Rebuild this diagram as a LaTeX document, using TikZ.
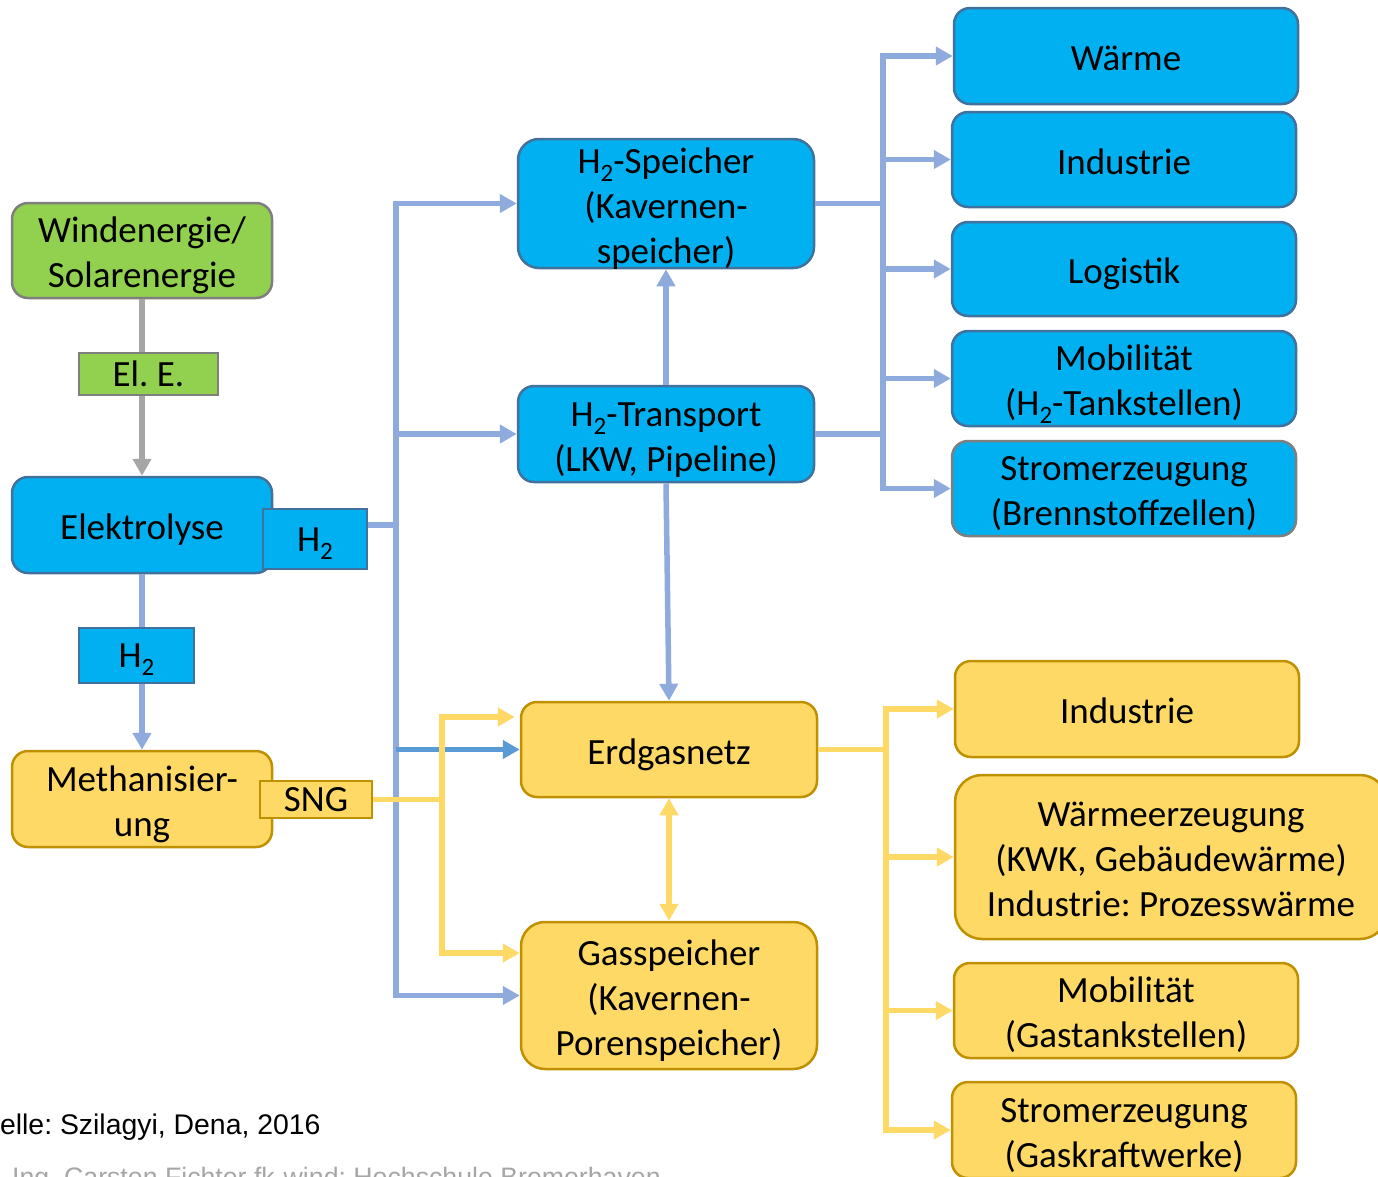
\documentclass[tikz,border=0pt]{standalone}
\usepackage{fontspec}
\setmainfont{Carlito}
\newfontfamily\arialfont{Liberation Sans}
\usetikzlibrary{arrows.meta, positioning}
\frenchspacing

\definecolor{hblau}{HTML}{00B0F0}
\definecolor{hrand}{HTML}{41719C}
\definecolor{gruen}{HTML}{92D050}
\definecolor{grau}{HTML}{7F7F7F}
\definecolor{gelb}{HTML}{FFD966}
\definecolor{gelbrand}{HTML}{BF9000}
\definecolor{pfeilblau}{HTML}{8FAADC}
\definecolor{pfeildunkel}{HTML}{5B9BD5}
\definecolor{pfeilgelb}{HTML}{FFD966}
\definecolor{pfeilgrau}{HTML}{A6A6A6}
\definecolor{fussgrau}{HTML}{A6A6A6}

% tiefgestellte Ziffer
\newcommand{\tief}[1]{\raisebox{-8pt}{\fontsize{25}{25}\selectfont#1}}

\begin{document}
\begin{tikzpicture}[
    x=1pt, y=-1pt,
    bbox/.style={
        draw=hrand,
        fill=hblau,
        line width=2.5pt,
        rounded corners=16pt,
        align=center,
        inner sep=0pt,
        minimum width=344pt,
        minimum height=95pt,
        font=\fontsize{37}{45}\selectfont,
        text height=29.5pt,
        text depth=0pt
    },
    zwei/.style={text height=74.5pt},
    drei/.style={text height=119.5pt},
    gbox/.style={bbox, draw=grau, fill=gruen},
    ybox/.style={bbox, draw=gelbrand, fill=gelb},
    btag/.style={bbox, rounded corners=0pt, text height=24pt},
    ytag/.style={ybox, rounded corners=0pt, text height=24pt},
    gtag/.style={gbox, rounded corners=0pt, text height=24pt},
    pfeil/.style={
        line width=5.5pt,
        -{Triangle[length=17pt,width=18pt]}
    },
    barrow/.style={pfeil, draw=pfeilblau},
    darrow/.style={pfeil, draw=pfeildunkel},
    yarrow/.style={pfeil, draw=pfeilgelb},
    garrow/.style={pfeil, draw=pfeilgrau},
    bline/.style={line width=5.5pt, draw=pfeilblau},
    yline/.style={line width=5.5pt, draw=pfeilgelb}
]

\useasboundingbox (0,0) rectangle (1378,1176);
\clip (0,0) rectangle (1378,1176);

% Quelle links
\node (wind) [gbox, zwei, minimum width=260pt] at (142,250.5) {Windenergie/\\Solarenergie};
\node (elektrolyse) [bbox, minimum width=260pt, minimum height=96pt] at (142,525) {Elektrolyse};
\node (methan) [ybox, zwei, minimum width=260pt, minimum height=96pt] at (142,799) {Methanisier-\\ung};

% Mitte
\node (speicher) [bbox, drei, minimum width=296pt, minimum height=129pt, rounded corners=21pt] at (666,203.5) {H\tief{2}-Speicher\\(Kavernen-\\speicher)};
\node (transport) [bbox, zwei, minimum width=296pt, minimum height=96pt] at (666,434) {H\tief{2}-Transport\\(LKW, Pipeline)};
\node (erdgas) [ybox, minimum width=296pt] at (669,749.5) {Erdgasnetz};
\node (gasspeicher) [ybox, drei, minimum width=296pt, minimum height=147pt, rounded corners=24pt] at (669,995.5) {Gasspeicher\\(Kavernen-\\Porenspeicher)};

% Nutzung Wasserstoff
\node (waerme) [bbox, minimum height=96pt] at (1126,56) {Wärme};
\node (hind) [bbox] at (1124,159.5) {Industrie};
\node (logistik) [bbox, minimum height=94pt] at (1124,269) {Logistik};
\node (hmob) [bbox, zwei] at (1124,378.5) {Mobilität\\(H\tief{2}-Tankstellen)};
\node (hstrom) [bbox, zwei, draw=grau] at (1124,488.5) {Stromerzeugung\\(Brennstoffzellen)};

% Nutzung Erdgas
\node (gind) [ybox, minimum height=96pt] at (1127,709) {Industrie};
\node (gwaerme) [ybox, drei, minimum width=432pt, minimum height=164pt, rounded corners=27pt] at (1171,857) {Wärmeerzeugung\\(KWK, Gebäudewärme)\\Industrie: Prozesswärme};
\node (gmob) [ybox, zwei] at (1126,1010.5) {Mobilität\\(Gastankstellen)};
\node (gstrom) [ybox, zwei, minimum height=96pt] at (1124,1130) {Stromerzeugung\\(Gaskraftwerke)};

% Pfeile links
\draw [garrow] (wind) -- (elektrolyse);
\draw [barrow] (elektrolyse) -- (methan);
\node (ele) [gtag, minimum width=139pt, minimum height=42pt] at (148.5,374) {El. E.};
\node (hzweib) [btag, minimum width=115pt, minimum height=55pt] at (136.5,655.5) {H\tief{2}};
\node (hzweia) [btag, minimum width=104pt, minimum height=60pt] at (315,539) {H\tief{2}};
\node (sng) [ytag, minimum width=112pt, minimum height=37pt] at (316,799.5) {SNG};

% Wasserstoff-Verteilung
\coordinate (hb) at (396,525);
\draw [bline] (hb -| hzweia.east) -- (hb);
\draw [barrow] (hb) |- (speicher.west);
\draw [barrow] (hb) |- (transport.west);
\draw [barrow] (hb) |- (gasspeicher.west);
\draw [darrow] (hb |- erdgas.west) -- (erdgas.west);
\draw [barrow] (transport) -- (speicher);
\draw [barrow] (transport.south) -- (erdgas.north);

% SNG
\coordinate (ys) at (442,717);
\coordinate (yg) at (442,953);
\draw [yarrow, shorten >=5pt] (sng.east) -| (ys) -- (ys -| erdgas.west);
\draw [yarrow] (sng.east) -| (yg) -- (yg -| gasspeicher.west);
\draw [yarrow, {Triangle[length=17pt,width=18pt]}-{Triangle[length=17pt,width=18pt]}] (erdgas) -- (gasspeicher);

% rechte Verteiler
\coordinate (rb) at (883,203.5);
\draw [bline] (speicher.east) -- (rb);
\draw [bline] (transport.east) -- (transport.east -| rb);
\foreach \n in {waerme, hind, logistik, hmob, hstrom}
    \draw [barrow] (rb) |- (\n.west);

\coordinate (yb) at (886,749.5);
\draw [yline] (erdgas.east) -- (yb);
\foreach \n in {gind, gwaerme, gmob, gstrom}
    \draw [yarrow] (yb) |- (\n.west);

% Fusszeile
\node (quelle) [anchor=base west, inner sep=0pt, font=\arialfont\fontsize{28.4}{30}\selectfont] at (-38,1134) {Quelle: Szilagyi, Dena, 2016};
\node (autor) [anchor=base west, inner sep=0pt, text=fussgrau, font=\arialfont\fontsize{26.7}{30}\selectfont] at (12,1186) {Ing. Carsten Fichter fk-wind: Hochschule Bremerhaven};

\end{tikzpicture}
\end{document}
